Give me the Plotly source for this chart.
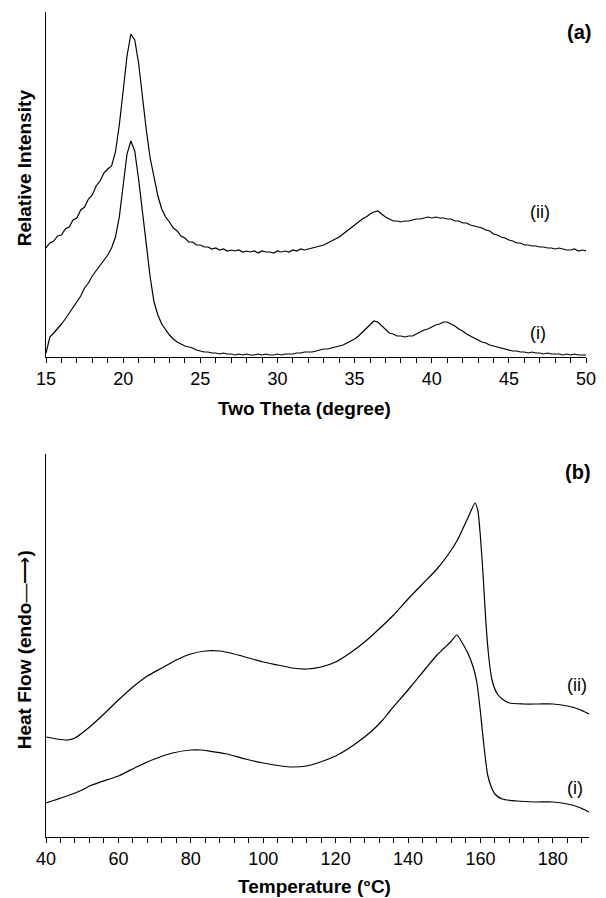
import plotly.graph_objects as go

# ---------------- Data ----------------
# (a) XRD patterns, sampled every 0.25 degree from 15 to 50 (relative intensity, a.u.)
theta_start = 15.0
theta_step = 0.25
xrd_ii = [
    109, 114, 116, 121,   # 15
    122, 128, 130, 137,   # 16
    139, 147, 150, 158,   # 17
    162, 171, 176, 184,   # 18
    188, 191, 205, 232,   # 19
    266, 301, 323, 317,   # 20
    294, 260, 227, 199,   # 21
    180, 161, 148, 140,   # 22
    135, 129, 126, 121,   # 23
    119, 115, 115, 112,   # 24
    112, 110, 110, 108,   # 25
    109, 107, 108, 106,   # 26
    107, 106, 107, 105,   # 27
    106, 105, 106, 104,   # 28
    106, 105, 105, 104,   # 29
    106, 105, 106, 105,   # 30
    107, 106, 108, 107,   # 31
    108, 109, 110, 111,   # 32
    112, 114, 116, 118,   # 33
    120, 123, 126, 129,   # 34
    132, 135, 138, 140,   # 35
    143, 145, 146, 143,   # 36
    140, 138, 136, 136,   # 37
    135, 136, 136, 137,   # 38
    138, 138, 139, 140,   # 39
    139, 140, 139, 139,   # 40
    138, 138, 136, 136,   # 41
    134, 134, 132, 131,   # 42
    130, 129, 127, 126,   # 43
    123, 122, 120, 119,   # 44
    117, 116, 114, 114,   # 45
    112, 112, 111, 111,   # 46
    110, 110, 109, 109,   # 47
    108, 109, 108, 107,   # 48
    107, 108, 106, 107,   # 49
    106,                  # 50
]
xrd_i = [
    4, 20, 24, 28,        # 15
    33, 38, 44, 49,       # 16
    55, 61, 69, 74,       # 17
    81, 86, 92, 96,       # 18
    102, 109, 120, 140,   # 19
    172, 203, 216, 206,   # 20
    178, 145, 112, 80,    # 21
    55, 42, 33, 27,       # 22
    22, 18, 15, 13,       # 23
    11, 10, 9, 7,         # 24
    6, 5, 5, 4,           # 25
    4, 3, 4, 3,           # 26
    3, 2, 3, 2,           # 27
    3, 2, 2, 3,           # 28
    2, 3, 2, 2,           # 29
    3, 2, 3, 3,           # 30
    3, 4, 4, 5,           # 31
    5, 5, 6, 7,           # 32
    8, 8, 9, 10,          # 33
    11, 12, 14, 16,       # 34
    18, 21, 25, 29,       # 35
    33, 36, 35, 31,       # 36
    27, 24, 23, 21,       # 37
    21, 20, 21, 21,       # 38
    23, 25, 27, 28,       # 39
    30, 32, 33, 35,       # 40
    35, 33, 31, 28,       # 41
    26, 23, 21, 19,       # 42
    17, 15, 14, 12,       # 43
    11, 10, 9, 8,         # 44
    7, 6, 6, 5,           # 45
    5, 4, 5, 4,           # 46
    4, 3, 4, 3,           # 47
    3, 3, 2, 3,           # 48
    2, 3, 2, 2,           # 49
    2,                    # 50
]
theta_ii = [theta_start + theta_step * k for k in range(len(xrd_ii))]
theta_i = [theta_start + theta_step * k for k in range(len(xrd_i))]

# (b) DSC curves (heat flow, a.u.)
temp_ii = [40, 43, 46, 48, 50, 53, 56, 60, 64, 68, 72, 76, 80, 84, 88, 92, 96, 100,
           104, 108, 112, 116, 120, 124, 128, 132, 136, 140, 144, 148, 151, 153.5,
           156, 157.5, 158.5, 159.3, 160, 160.7, 161.5, 162.3, 163.2, 164.5, 166,
           168, 172, 176, 180, 184, 187, 190]
dsc_ii = [100, 98, 97, 99, 104, 113, 123, 137, 150, 161, 169, 177, 183, 186, 186,
          183, 179, 175, 172, 169, 168, 170, 175, 184, 195, 208, 222, 238, 253, 268,
          282, 296, 315, 327, 334, 326, 300, 264, 215, 180, 157, 144, 138,
          134, 133, 133, 133, 131, 128, 123]
temp_i = [40, 45, 50, 52, 55, 60, 65, 70, 75, 80, 83, 85, 90, 95, 100, 105, 108, 112,
          115, 120, 125, 130, 133, 135, 140, 145, 148, 150, 152, 153.5, 155, 156.5,
          158, 159, 160, 161, 162, 163, 164, 166, 170, 175, 180, 184, 187, 190]
dsc_i = [34, 40, 47, 51, 55, 61, 70, 78, 84, 87, 87, 86, 83, 78, 74, 71, 70, 71,
         74, 81, 92, 106, 117, 126, 147, 169, 182, 189, 196, 202, 194, 184,
         170, 155, 125, 90, 62, 50, 43, 38, 36, 35, 35, 33, 30, 25]

xrd_ticks = [15, 20, 25, 30, 35, 40, 45, 50]
dsc_ticks = [40, 60, 80, 100, 120, 140, 160, 180]

# ---------------- Layout helpers ----------------
# The page body has an 8px default margin, so the figure is drawn 8px smaller
# and all target screen coordinates are shifted by that offset.
OFF = 8
W, H = 606 - OFF, 898 - OFF
PLOT_L, PLOT_R, PLOT_T, PLOT_B = 46, 600, 12, 837      # screen pixels
ML, MR = PLOT_L - OFF, W - (PLOT_R - OFF)
MT, MB = PLOT_T - OFF, H - (PLOT_B - OFF)
PW, PH = W - ML - MR, H - MT - MB


def paper(xp, yp):
    """screen pixel -> paper fraction"""
    return (xp - PLOT_L) / PW, (PLOT_B - yp) / PH


FONT = "Liberation Sans, Arial, Helvetica, sans-serif"
LINE = dict(color="black", width=1.2)

fig = go.Figure()
fig.add_trace(go.Scatter(x=theta_i, y=xrd_i, mode="lines", line=LINE, xaxis="x", yaxis="y"))
fig.add_trace(go.Scatter(x=theta_ii, y=xrd_ii, mode="lines", line=LINE, xaxis="x", yaxis="y"))
fig.add_trace(go.Scatter(x=temp_i, y=dsc_i, mode="lines", line=dict(LINE, shape="spline", smoothing=0.6),
                         xaxis="x2", yaxis="y2"))
fig.add_trace(go.Scatter(x=temp_ii, y=dsc_ii, mode="lines", line=dict(LINE, shape="spline", smoothing=0.6),
                         xaxis="x2", yaxis="y2"))

xcommon = dict(showline=True, linecolor="black", linewidth=1.3, ticks="outside", ticklen=5,
               tickwidth=1, tickcolor="black", showgrid=False, zeroline=False,
               tickfont=dict(family=FONT, size=18, color="black"))
ycommon = dict(showline=True, linecolor="black", linewidth=1.3, ticks="", showticklabels=False,
               showgrid=False, zeroline=False)

x1_end = paper(594, 0)[0]
x2_end = paper(597, 0)[0]
y1_lo = paper(0, 357)[1]
y2_hi = paper(0, 454)[1]

fig.update_layout(
    width=W, height=H,
    margin=dict(l=ML, r=MR, t=MT, b=MB, pad=0),
    paper_bgcolor="white", plot_bgcolor="white",
    showlegend=False,
    font=dict(family=FONT, color="black"),
    xaxis=dict(xcommon, domain=[0, x1_end], range=[15, 50], tickvals=xrd_ticks,
               minor=dict(dtick=1, tick0=15, ticks="outside", ticklen=5, tickcolor="black", showgrid=False),
               anchor="y"),
    yaxis=dict(ycommon, domain=[y1_lo, 1], range=[0, 345], anchor="x"),
    xaxis2=dict(xcommon, domain=[0, x2_end], range=[40, 190], tickvals=dsc_ticks,
                minor=dict(dtick=4, tick0=40, ticks="outside", ticklen=5, tickcolor="black", showgrid=False),
                anchor="y2"),
    yaxis2=dict(ycommon, domain=[0, y2_hi], range=[0, 383], anchor="x2"),
)


def label(text, xp, yp, size=18, angle=0, xanchor="center"):
    x, y = paper(xp, yp)
    fig.add_annotation(text=text, x=x, y=y, xref="paper", yref="paper", showarrow=False,
                       xanchor=xanchor, yanchor="middle", textangle=angle,
                       font=dict(family=FONT, size=size, color="black"))


label("<b>Two Theta (degree)</b>", 308, 408, size=19)
label("<b>Temperature (°C)</b>", 318, 886, size=19)
label("<b>Relative Intensity</b>", 24, 168, size=19, angle=-90)
label("<b>Heat Flow (endo</b>\u2014\u27F6<b>)</b>", 24, 650, size=19, angle=-90)
label("<b>(a)</b>", 601, 32, size=20, xanchor="right")
label("<b>(b)</b>", 601, 472, size=20, xanchor="right")
label("(ii)", 547, 212)
label("(i)", 545, 333)
label("(ii)", 585, 685)
label("(i)", 583, 788)

fig.write_html("out.html")
